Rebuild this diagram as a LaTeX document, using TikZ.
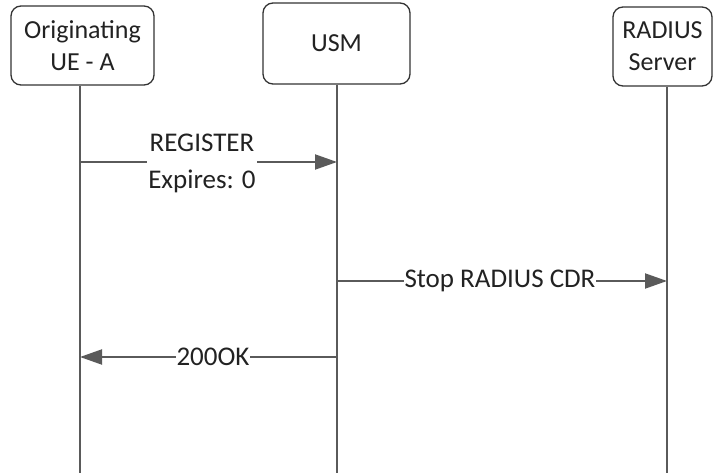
\documentclass[tikz,border=0pt]{standalone}
\usepackage{fontspec}
\setmainfont{Carlito}
\usetikzlibrary{arrows.meta}
\definecolor{txt}{HTML}{222222}
\definecolor{lifec}{HTML}{5A5A5A}
\definecolor{boxc}{HTML}{333333}
\begin{document}
\begin{tikzpicture}[x=1pt,y=-1pt,
  actor/.style={draw=boxc,line width=1.3pt,rounded corners=10pt,fill=white,text=txt,align=center,inner sep=0pt,font=\fontsize{26}{32}\selectfont},
  life/.style={draw=lifec,line width=2pt},
  msg/.style={draw=lifec,line width=2pt,-{Triangle[length=22pt,width=15pt]}},
  lbl/.style={fill=white,text=txt,align=center,inner sep=1pt,font=\fontsize{27}{37}\selectfont}]
\useasboundingbox (0,0) rectangle (713,473);
\node[actor,minimum width=143pt,minimum height=79pt] (A) at (82.5,45.5) {Originating\\UE - A};
\node[actor,minimum width=147pt,minimum height=81pt] (U) at (336.5,43.5) {USM};
\node[actor,minimum width=99pt,minimum height=79pt] (R) at (662.5,46.5) {RADIUS\\Server};
\coordinate (Ab) at (80,473);
\coordinate (Ub) at (337,473);
\coordinate (Rb) at (667,473);
\draw[life] (A.south -| Ab) -- (Ab);
\draw[life] (U.south -| Ub) -- (Ub);
\draw[life] (R.south -| Rb) -- (Rb);
\coordinate (a1) at (80,162); \coordinate (u1) at (337,162);
\coordinate (u2) at (337,281); \coordinate (r2) at (667,281);
\coordinate (u3) at (337,357); \coordinate (a3) at (80,357);
\draw[msg] (a1) -- (u1);
\node[lbl] (m1) at (202,163) {REGISTER\\Expires: 0};
\draw[msg] (u2) -- (r2);
\node[lbl] (m2) at (500,281) {Stop RADIUS CDR};
\draw[msg] (u3) -- (a3);
\node[lbl] (m3) at (213,357) {200OK};
\end{tikzpicture}
\end{document}
